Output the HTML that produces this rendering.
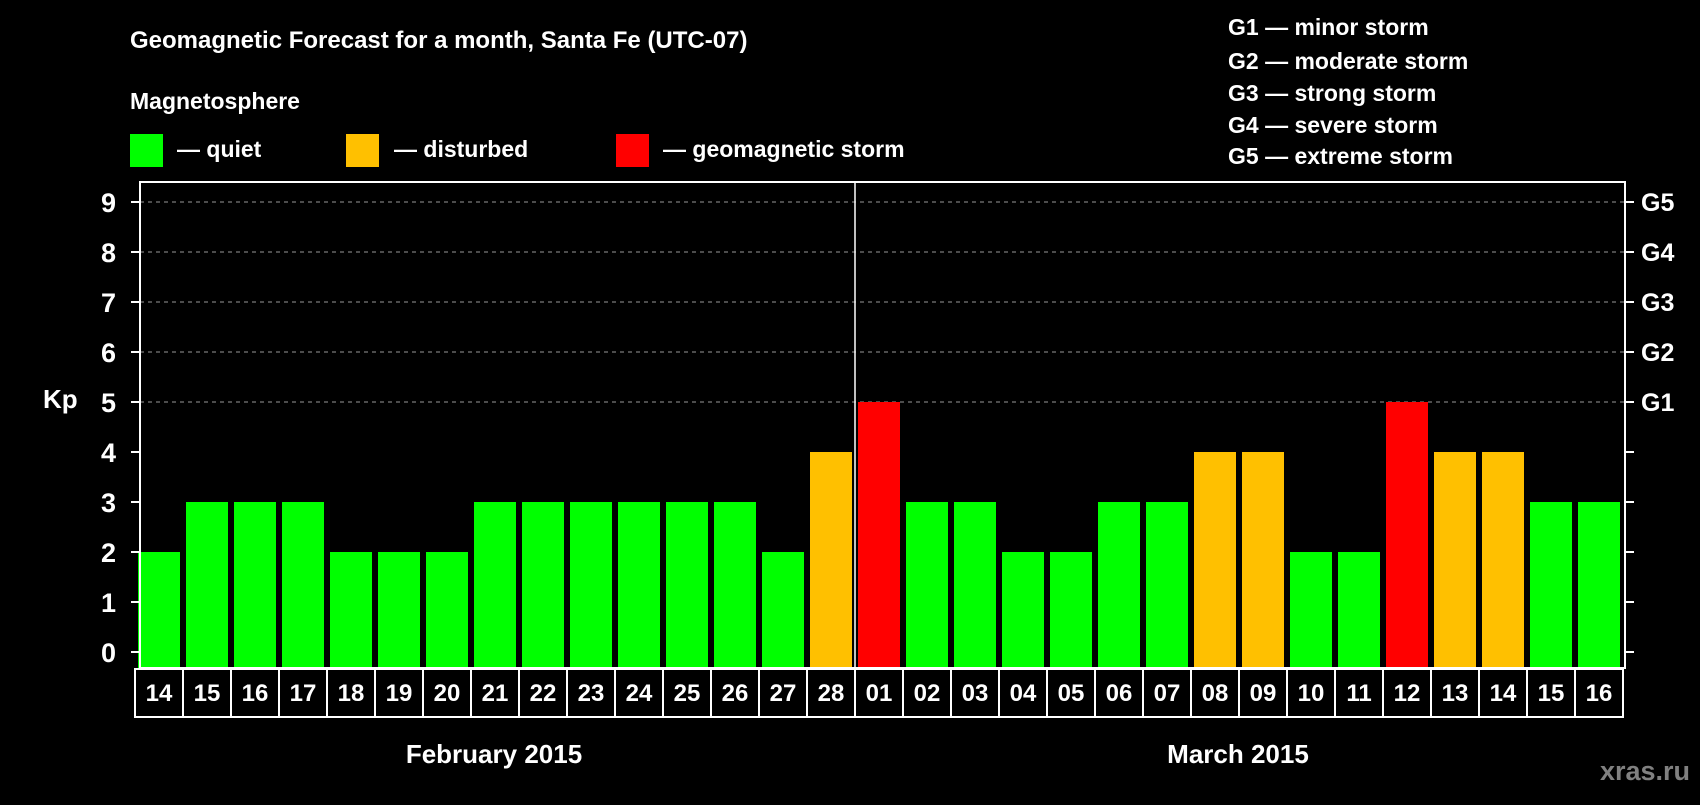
<!DOCTYPE html>
<html><head><meta charset="utf-8"><style>
body{margin:0;background:#000;width:1700px;height:800px;overflow:hidden;font-family:"Liberation Sans",sans-serif;font-weight:bold;color:#fff}
</style></head><body>
<svg width="1700" height="800" viewBox="0 0 1700 800" xmlns="http://www.w3.org/2000/svg" font-family="Liberation Sans, sans-serif" font-weight="bold">
<rect width="1700" height="800" fill="#000"/>
<text x="130" y="48" font-size="24" fill="#fff">Geomagnetic Forecast for a month, Santa Fe (UTC-07)</text>
<text x="130" y="109" font-size="23" fill="#fff">Magnetosphere</text>
<rect x="130" y="134" width="33" height="33" fill="#00ff00"/>
<text x="177" y="157" font-size="23" fill="#fff">— quiet</text>
<rect x="346" y="134" width="33" height="33" fill="#ffc000"/>
<text x="394" y="157" font-size="23" fill="#fff">— disturbed</text>
<rect x="616" y="134" width="33" height="33" fill="#ff0000"/>
<text x="663" y="157" font-size="23" fill="#fff">— geomagnetic storm</text>
<g font-size="23" fill="#fff">
<text x="1228" y="35">G1 — minor storm</text>
<text x="1228" y="69">G2 — moderate storm</text>
<text x="1228" y="101">G3 — strong storm</text>
<text x="1228" y="133">G4 — severe storm</text>
<text x="1228" y="164">G5 — extreme storm</text>
</g>
<text x="43" y="408" font-size="26" fill="#fff">Kp</text>
<g id="chart"></g>
<text x="494" y="763" font-size="26" fill="#fff" text-anchor="middle">February 2015</text>
<text x="1238" y="763" font-size="26" fill="#fff" text-anchor="middle">March 2015</text>
<text x="1690" y="780" font-size="27" fill="#808080" text-anchor="end">xras.ru</text>
</svg>
<script>
const days = ["14","15","16","17","18","19","20","21","22","23","24","25","26","27","28","01","02","03","04","05","06","07","08","09","10","11","12","13","14","15","16"];
const kpValues = [2,3,3,3,2,2,2,3,3,3,3,3,3,2,4,5,3,3,2,2,3,3,4,4,2,2,5,4,4,3,3];
const yTicks = [0,1,2,3,4,5,6,7,8,9];
const gLabels = ["G1","G2","G3","G4","G5"];
const gLevels = [5,6,7,8,9];
const monthBreak = 15;

const NS="http://www.w3.org/2000/svg";
const g=document.getElementById('chart');
const x0=135, slot=48, pL=140, pR=1625, pT=182, pB=668;
const y=v=>652-v*50;
const xs=i=>x0+i*slot;
function mk(t,a){const e=document.createElementNS(NS,t);for(const k in a)e.setAttribute(k,a[k]);g.appendChild(e);return e;}
gLevels.forEach((lv,i)=>{
  const l=mk('line',{x1:pL,x2:pR,y1:y(lv),y2:y(lv),stroke:'#999','stroke-dasharray':'4,4','stroke-width':1});
  
  
  const t=mk('text',{x:1641,y:y(lv)+9,'font-size':25,fill:'#fff'});t.textContent=gLabels[i];
  
  
});
kpValues.forEach((v,i)=>{
  const c=v>=5?'#ff0000':(v>=4?'#ffc000':'#00ff00');
  const r=mk('rect',{x:xs(i)+3,y:y(v),width:42,height:pB-y(v),fill:c});
  
  
});
mk('rect',{x:pL,y:pT,width:pR-pL,height:pB-pT,fill:'none',stroke:'#fff','stroke-width':2});
const sep=mk('line',{x1:xs(monthBreak),x2:xs(monthBreak),y1:pT,y2:pB,stroke:'#fff','stroke-width':1.5});


yTicks.forEach(v=>{
  mk('line',{x1:131,x2:pL,y1:y(v),y2:y(v),stroke:'#fff','stroke-width':2});
  mk('line',{x1:pR,x2:1634,y1:y(v),y2:y(v),stroke:'#fff','stroke-width':2});
  const t=mk('text',{x:116,y:y(v)+10,'font-size':27,fill:'#fff','text-anchor':'end'});t.textContent=v;
  
  
});
days.forEach((d,i)=>{
  mk('rect',{x:xs(i),y:pB+1,width:slot,height:48,fill:'none',stroke:'#fff','stroke-width':2});
  const t=mk('text',{x:xs(i)+slot/2,y:pB+33,'font-size':24,fill:'#fff','text-anchor':'middle'});t.textContent=d;
  
  
});
</script>
</body></html>
